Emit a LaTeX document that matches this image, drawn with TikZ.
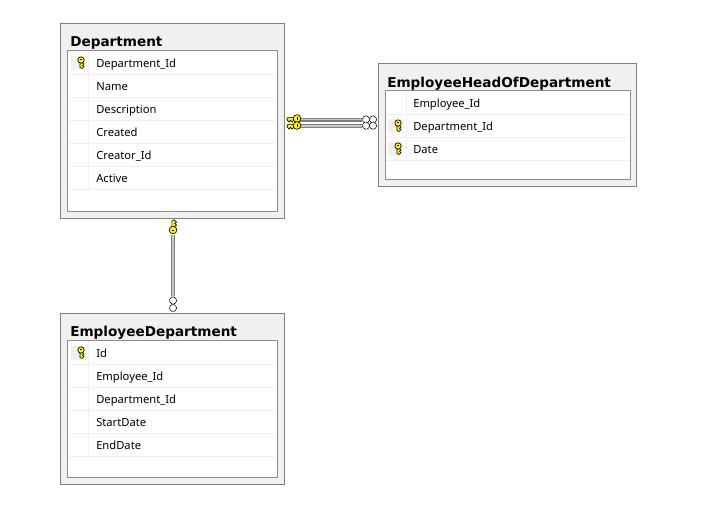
\documentclass[tikz,border=0pt]{standalone}
\usepackage{fontspec}
\setmainfont{Noto Sans}
\newfontfamily\titlefont{DejaVu Sans Bold}
\definecolor{panelgray}{HTML}{F0F0F0}
\definecolor{framegray}{HTML}{808080}
\definecolor{keyyellow}{HTML}{FFF200}
\tikzset{
	tablebox/.style={draw=framegray,line width=.6pt,fill=panelgray,inner sep=0pt},
	rowbox/.style={draw=framegray!90,line width=.6pt,fill=white,inner sep=0pt},
	tabletitle/.style={anchor=base west,inner sep=0pt,font=\titlefont\fontsize{10.2}{12}\selectfont},
	rowtext/.style={anchor=base west,inner sep=0pt,font=\fontsize{8.4}{10}\selectfont},
	rowline/.style={draw=panelgray,line width=.75pt},
	relline/.style={draw=framegray,line width=.9pt,double=black!22,double distance=1.2pt,line cap=butt},
	ringend/.style={circle,draw=black,dash pattern=on .7pt off .5pt,line width=.6pt,fill=white,minimum size=5.4pt,inner sep=0pt},
	tablekey/.pic={
		\draw[black,line width=.45pt,fill=keyyellow] (-1,4) -- (-1,10) -- (1,11) -- (3,9) -- (1.5,8) -- (3,6.5) -- (1,5) -- (1,4) -- cycle;
		\draw[black,line width=.5pt,fill=keyyellow] (0,2.5) circle (3.2);
		\fill[black] (-1,1.8) rectangle (1,2.6);
	}
}
\begin{document}
\begin{tikzpicture}[x=.75pt,y=-.75pt]
	\useasboundingbox (0,0) rectangle (720,529);
	\node[tablebox,minimum width=168pt,minimum height=146.25pt] (department) at (172,120.5) {};
	\node[rowbox,minimum width=157.5pt,minimum height=120.75pt] (departmentrows) at (172,130.5) {};
	\node[tabletitle] (departmenttitle) at (70,46) {Department};
	\foreach \y/\n/\t in {67/1/Department\_Id, 90/2/Name, 113/3/Description, 136/4/Created, 159/5/Creator\_Id, 182/6/Active} {
		\node[rowtext] (department\n) at (96,\y) {\t};
		\draw[rowline] (68,\y+7) -- (276,\y+7);
	}
	\draw[rowline] (88,51) -- (88,189);

	\node[tablebox,minimum width=193.5pt,minimum height=92.25pt] (head) at (507,124.5) {};
	\node[rowbox,minimum width=183.75pt,minimum height=66.75pt] (headrows) at (507.5,134.5) {};
	\node[tabletitle] (headtitle) at (387,87) {EmployeeHeadOfDepartment};
	\foreach \y/\n/\t in {107/1/Employee\_Id, 130/2/Department\_Id, 153/3/Date} {
		\node[rowtext] (head\n) at (413,\y) {\t};
		\draw[rowline] (386,\y+7) -- (629,\y+7);
	}
	\draw[rowline] (406,91) -- (406,160);

	\node[tablebox,minimum width=168pt,minimum height=128.25pt] (staff) at (172,398.5) {};
	\node[rowbox,minimum width=157.5pt,minimum height=102.75pt] (staffrows) at (172,408.5) {};
	\node[tabletitle] (stafftitle) at (70,336) {EmployeeDepartment};
	\foreach \y/\n/\t in {357/1/Id, 380/2/Employee\_Id, 403/3/Department\_Id, 426/4/StartDate, 449/5/EndDate} {
		\node[rowtext] (staff\n) at (96,\y) {\t};
		\draw[rowline] (68,\y+7) -- (276,\y+7);
	}
	\draw[rowline] (88,341) -- (88,456);

	\foreach \x/\y in {71/56, 388/119, 388/142, 71/346} {
		\fill[panelgray] (\x,\y) rectangle +(15,14);
	}
	\foreach \x/\y in {81/57.5, 398/120.5, 398/143.5, 81/347.5} {
		\pic at (\x,\y) {tablekey};
	}

	\coordinate (keytop) at (300,119.5);
	\coordinate (keylow) at (300,125.7);
	\coordinate (ringtop) at (362,119.5);
	\coordinate (ringlow) at (362,125.7);
	\coordinate (keydown) at (173,235);
	\coordinate (ringup) at (173,296);
	\draw[relline] (keytop) -- (ringtop);
	\draw[relline] (keylow) -- (ringlow);
	\draw[relline] (keydown) -- (ringup);
	\foreach \x in {366,373} {
		\foreach \y in {119.5,125.7} {
			\node[ringend] at (\x,\y) {};
		}
	}
	\foreach \y in {300.5,308} {
		\node[ringend] at (173,\y) {};
	}
	\pic[rotate=-90,scale=1.2] at (300,118.5) {tablekey};
	\pic[rotate=-90,scale=1.2] at (300,125.5) {tablekey};
	\pic[xscale=1.2,yscale=-1.2] at (173,233) {tablekey};
\end{tikzpicture}
\end{document}
